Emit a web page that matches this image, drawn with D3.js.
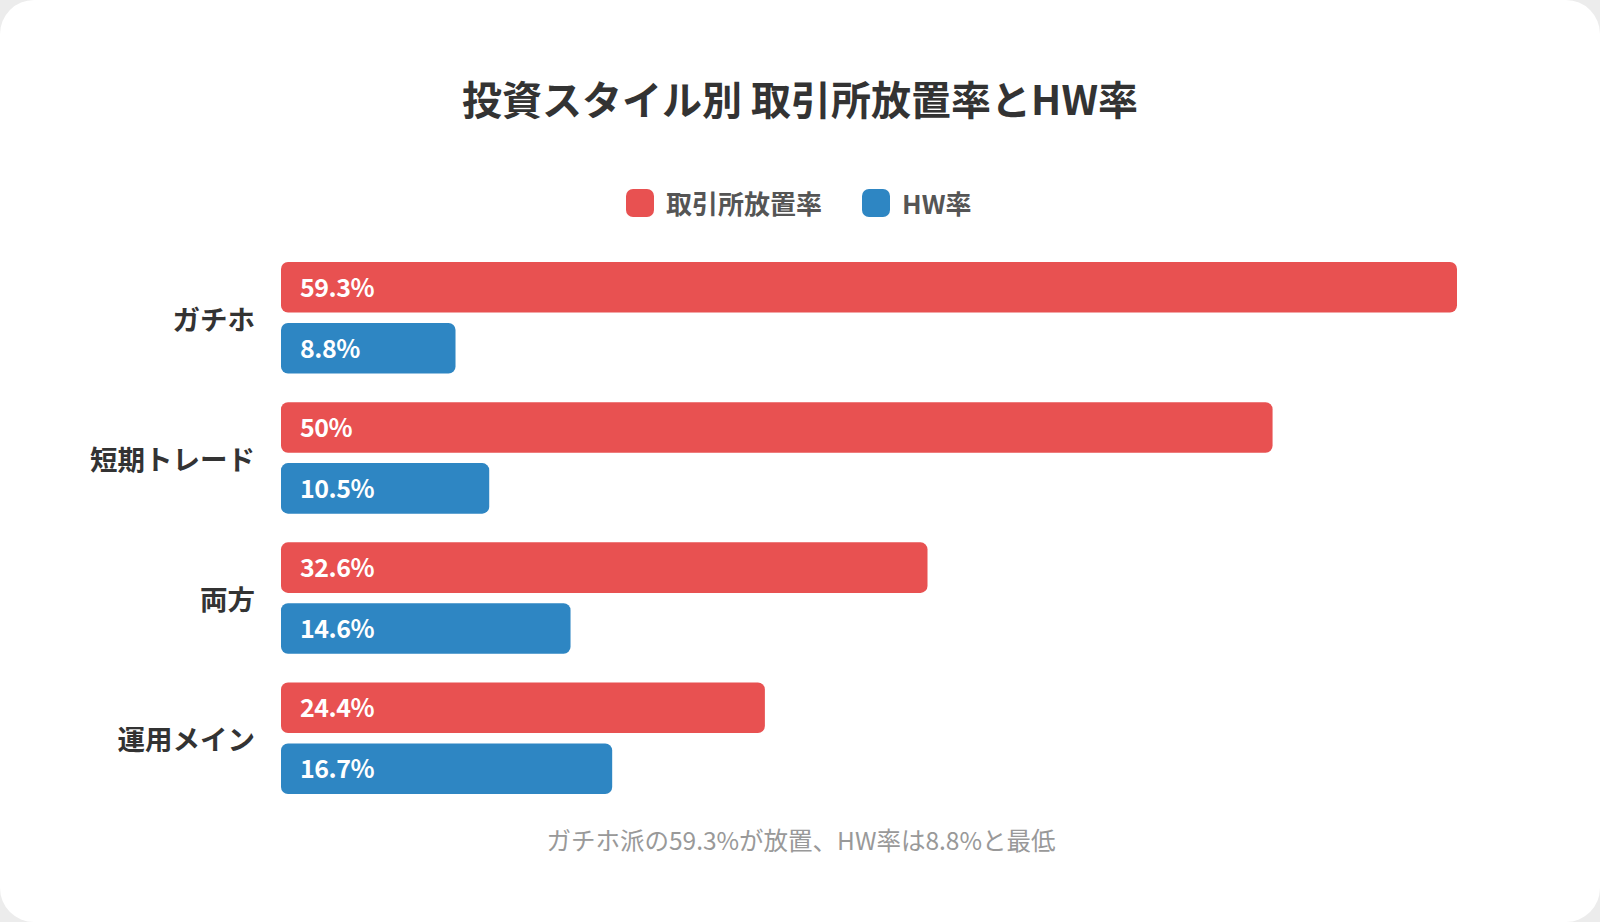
<!DOCTYPE html>
<html><head><meta charset="utf-8">
<script src="https://cdn.jsdelivr.net/npm/d3@7"></script>
<style>
html,body{margin:0;padding:0;background:#ececec;}
body{width:1600px;height:922px;overflow:hidden;}
#card{position:absolute;left:0;top:0;width:1600px;height:922px;background:#fff;border-radius:34px;}
svg{position:absolute;left:0;top:0;}
</style></head>
<body><div id="card"></div><svg id="chart" width="1600" height="922"></svg>
<script>
const categories = ["ガチホ", "短期トレード", "両方", "運用メイン"];
const seriesNames = ["取引所放置率", "HW率"];
const abandonRate = [59.3, 50, 32.6, 24.4];
const hwRate = [8.8, 10.5, 14.6, 16.7];
const seriesColors = ["#e85151", "#2e86c3"];
const title = "投資スタイル別 取引所放置率とHW率";
const note = "ガチホ派の59.3%が放置、HW率は8.8%と最低";

const font = "'Noto Sans CJK JP','Noto Sans',sans-serif";
const svg = d3.select("#chart");

const x = d3.scaleLinear().domain([0, d3.max(abandonRate)]).range([281, 1457]);
const y = d3.scaleBand().domain(categories).range([262, 794]).paddingInner(0.205).paddingOuter(0);
const sub = d3.scaleBand().domain(seriesNames).range([0, y.bandwidth()]).paddingInner(0.17);

svg.append("text").attr("x", 800).attr("y", 98).attr("text-anchor", "middle")
  .attr("dominant-baseline", "central").attr("font-family", font).attr("font-size", 40)
  .attr("font-weight", 700).attr("fill", "#333").text(title);

// legend
const legendItems = [
  {name: seriesNames[0], color: seriesColors[0], x: 626},
  {name: seriesNames[1], color: seriesColors[1], x: 862}
];
const lg = svg.append("g");
legendItems.forEach(d => {
  lg.append("rect").attr("x", d.x).attr("y", 189).attr("width", 28).attr("height", 28)
    .attr("rx", 7).attr("fill", d.color);
  lg.append("text").attr("x", d.x + 40).attr("y", 202).attr("dominant-baseline", "central")
    .attr("font-family", font).attr("font-size", 26).attr("font-weight", 600)
    .attr("fill", "#555").text(d.name);
});

const rows = categories.map((c, i) => ({cat: c, vals: [abandonRate[i], hwRate[i]]}));
const g = svg.append("g");
rows.forEach(r => {
  g.append("text").attr("x", 255).attr("y", y(r.cat) + y.bandwidth() / 2)
    .attr("text-anchor", "end").attr("dominant-baseline", "central")
    .attr("font-family", font).attr("font-size", 27.5).attr("font-weight", 600)
    .attr("fill", "#333").text(r.cat);
  r.vals.forEach((v, j) => {
    const yy = y(r.cat) + sub(seriesNames[j]);
    g.append("rect").attr("x", x(0)).attr("y", yy).attr("width", x(v) - x(0))
      .attr("height", sub.bandwidth()).attr("rx", 7).attr("fill", seriesColors[j]);
    g.append("text").attr("x", x(0) + 19).attr("y", yy + sub.bandwidth() / 2 - 1.5)
      .attr("dominant-baseline", "central").attr("font-family", font)
      .attr("font-size", 25).attr("font-weight", 700).attr("fill", "#fff")
      .attr("letter-spacing", -0.5).text(v + "%");
  });
});

svg.append("text").attr("x", 801).attr("y", 839).attr("text-anchor", "middle")
  .attr("dominant-baseline", "central").attr("font-family", font).attr("font-size", 24.5)
  .attr("fill", "#999").text(note);
</script></body></html>
